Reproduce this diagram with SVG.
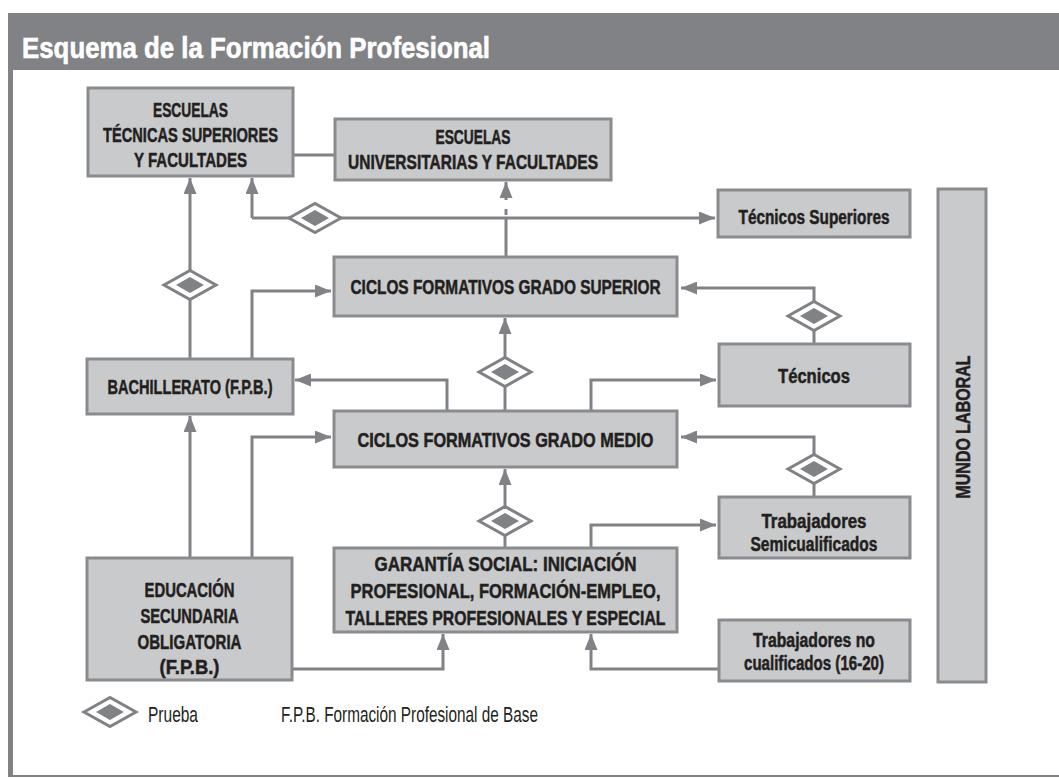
<svg xmlns="http://www.w3.org/2000/svg" xmlns:xlink="http://www.w3.org/1999/xlink" width="1059" height="778" viewBox="0 0 1059 778">
<style>
.box{fill:#c9cacc;stroke:#8a8b8e;stroke-width:3}
.c{fill:none;stroke:#808285;stroke-width:3}
.a{marker-end:url(#ah)}
.t{font-family:"Liberation Sans",Arial,sans-serif;font-weight:bold;font-size:20px;fill:#231f20;stroke:#231f20;stroke-width:0.5;text-anchor:middle}
.lg{font-family:"Liberation Sans",Arial,sans-serif;font-size:22px;fill:#231f20}
</style>
<defs>
<marker id="ah" markerUnits="userSpaceOnUse" markerWidth="16" markerHeight="13" refX="16" refY="6.5" orient="auto"><path d="M0,0 L16,6.5 L0,13 Z" fill="#808285"/></marker>
<g id="dia"><polygon points="-26,0 0,-14.5 26,0 0,14.5" fill="#fff" stroke="#808285" stroke-width="3"/><polygon points="-14,0 0,-8 14,0 0,8" fill="#808285"/></g>
</defs>
<rect width="1059" height="778" fill="#fff"/>
<g id="frame">
<rect x="8" y="13" width="1051" height="57" fill="#808285"/>
<rect x="8" y="70" width="5" height="707" fill="#808285"/>
<line x1="8" y1="776" x2="1059" y2="776" stroke="#808285" stroke-width="2"/>
<text x="22" y="58" font-family="Liberation Sans, Arial, sans-serif" font-weight="bold" font-size="29" fill="#fff" stroke="#fff" stroke-width="0.6" textLength="468" lengthAdjust="spacingAndGlyphs">Esquema de la Formación Profesional</text>
</g>
<g id="connectors">
<path class="c" d="M293,155 H335"/>
<path class="c a" d="M252,218 V178"/>
<path class="c a" d="M252,218 H715"/>
<path class="c" d="M506,257 V219"/>
<path class="c" d="M506,215 V209"/>
<path class="c a" d="M506,200 V182"/>
<path class="c a" d="M190,359 V178"/>
<path class="c a" d="M252,359 V291 H331"/>
<path class="c a" d="M814,344 V288 H681"/>
<path class="c a" d="M505,411 V318"/>
<path class="c a" d="M447,411 V380 H295"/>
<path class="c a" d="M591,411 V380 H716"/>
<path class="c a" d="M814,497 V437 H681"/>
<path class="c a" d="M252,558 V437 H331"/>
<path class="c a" d="M190,558 V416"/>
<path class="c a" d="M505,548 V469"/>
<path class="c a" d="M591,548 V525 H716"/>
<path class="c a" d="M292,669 H443 V634"/>
<path class="c a" d="M719,669 H591 V634"/>
</g>
<g id="tests">
<use xlink:href="#dia" x="315" y="218"/>
<use xlink:href="#dia" x="190" y="285"/>
<use xlink:href="#dia" x="505" y="372"/>
<use xlink:href="#dia" x="814" y="316"/>
<use xlink:href="#dia" x="814" y="469"/>
<use xlink:href="#dia" x="505" y="521"/>
</g>
<g id="n-ets">
<rect class="box" x="88" y="88" width="205" height="88"/>
<text class="t" x="190.5" y="117" textLength="75" lengthAdjust="spacingAndGlyphs">ESCUELAS</text>
<text class="t" x="190.5" y="142" textLength="175" lengthAdjust="spacingAndGlyphs">TÉCNICAS SUPERIORES</text>
<text class="t" x="190.5" y="167" textLength="113" lengthAdjust="spacingAndGlyphs">Y FACULTADES</text>
</g>
<g id="n-eu">
<rect class="box" x="335" y="119" width="276" height="61"/>
<text class="t" x="473" y="144" textLength="75" lengthAdjust="spacingAndGlyphs">ESCUELAS</text>
<text class="t" x="473" y="169" textLength="250" lengthAdjust="spacingAndGlyphs">UNIVERSITARIAS Y FACULTADES</text>
</g>
<g id="n-tecsup">
<rect class="box" x="718" y="190" width="192" height="47"/>
<text class="t" x="814" y="224" textLength="151" lengthAdjust="spacingAndGlyphs">Técnicos Superiores</text>
</g>
<g id="n-cgs">
<rect class="box" x="334" y="257" width="343" height="59"/>
<text class="t" x="505.5" y="294" textLength="310" lengthAdjust="spacingAndGlyphs">CICLOS FORMATIVOS GRADO SUPERIOR</text>
</g>
<g id="n-bach">
<rect class="box" x="87" y="359" width="206" height="55"/>
<text class="t" x="190" y="394" textLength="165" lengthAdjust="spacingAndGlyphs">BACHILLERATO (F.P.B.)</text>
</g>
<g id="n-tec">
<rect class="box" x="719" y="344" width="191" height="62"/>
<text class="t" x="814" y="383" textLength="72" lengthAdjust="spacingAndGlyphs">Técnicos</text>
</g>
<g id="n-cgm">
<rect class="box" x="334" y="411" width="343" height="56"/>
<text class="t" x="505.5" y="447" textLength="296" lengthAdjust="spacingAndGlyphs">CICLOS FORMATIVOS GRADO MEDIO</text>
</g>
<g id="n-semi">
<rect class="box" x="719" y="497" width="191" height="61"/>
<text class="t" x="814" y="528" textLength="105" lengthAdjust="spacingAndGlyphs">Trabajadores</text>
<text class="t" x="814" y="551" textLength="127" lengthAdjust="spacingAndGlyphs">Semicualificados</text>
</g>
<g id="n-gs">
<rect class="box" x="334" y="548" width="343" height="84"/>
<text class="t" x="505.5" y="571" textLength="262" lengthAdjust="spacingAndGlyphs">GARANTÍA SOCIAL: INICIACIÓN</text>
<text class="t" x="505.5" y="598" textLength="310" lengthAdjust="spacingAndGlyphs">PROFESIONAL, FORMACIÓN-EMPLEO,</text>
<text class="t" x="505.5" y="625" textLength="320" lengthAdjust="spacingAndGlyphs">TALLERES PROFESIONALES Y ESPECIAL</text>
</g>
<g id="n-eso">
<rect class="box" x="87" y="558" width="205" height="122"/>
<text class="t" x="189.5" y="597" textLength="90" lengthAdjust="spacingAndGlyphs">EDUCACIÓN</text>
<text class="t" x="189.5" y="623" textLength="98" lengthAdjust="spacingAndGlyphs">SECUNDARIA</text>
<text class="t" x="189.5" y="649" textLength="104" lengthAdjust="spacingAndGlyphs">OBLIGATORIA</text>
<text class="t" x="189.5" y="674" textLength="60" lengthAdjust="spacingAndGlyphs">(F.P.B.)</text>
</g>
<g id="n-nocual">
<rect class="box" x="719" y="620" width="191" height="61"/>
<text class="t" x="814" y="647" textLength="122" lengthAdjust="spacingAndGlyphs">Trabajadores no</text>
<text class="t" x="814" y="670" textLength="140" lengthAdjust="spacingAndGlyphs">cualificados (16-20)</text>
</g>
<g id="n-mundo">
<rect class="box" x="938" y="189" width="48" height="493"/>
<text class="t" transform="translate(970,427) rotate(-90)" x="0" y="0" textLength="143" lengthAdjust="spacingAndGlyphs">MUNDO LABORAL</text>
</g>
<g id="legend">
<use xlink:href="#dia" x="110" y="712"/>
<text class="lg" x="148" y="722" textLength="50" lengthAdjust="spacingAndGlyphs">Prueba</text>
<text class="lg" x="281" y="722" textLength="257" lengthAdjust="spacingAndGlyphs">F.P.B. Formación Profesional de Base</text>
</g>
</svg>
